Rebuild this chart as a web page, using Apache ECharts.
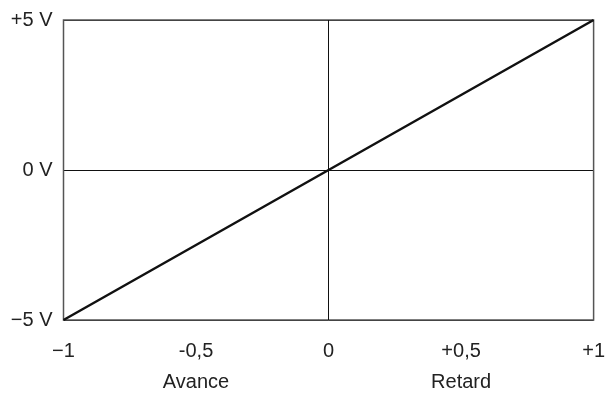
<!DOCTYPE html>
<html>
<head>
<meta charset="utf-8">
<script src="https://cdn.jsdelivr.net/npm/echarts@6/dist/echarts.min.js"></script>
<style>
  html, body { margin: 0; padding: 0; background: #fff; }
  #chart { width: 608px; height: 398px; }
</style>
</head>
<body>
<div id="chart"></div>
<script>
// phase (x) vs output voltage (y)
const xValues = [-1, 0, 1]
const yValues = [-5, 0, 5]
const xTickLabels = { '-1': '\u22121', '-0.5': '-0,5\nAvance', '0': '0', '0.5': '+0,5\nRetard', '1': '+1' }
const yTickLabels = { '-5': '\u22125 V', '0': '0 V', '5': '+5 V' }

const font = 'Liberation Sans, Arial, sans-serif'
const chart = echarts.init(document.getElementById('chart'))

chart.setOption({
  animation: false,
  grid: {
    left: 63.5,
    right: 14,
    top: 20,
    bottom: 74,
    show: true,
    borderColor: '#555',
    borderWidth: 1.5,
    z: 3
  },
  xAxis: {
    type: 'value',
    min: -1,
    max: 1,
    interval: 0.5,
    axisLine: { show: false },
    axisTick: { show: false },
    splitLine: { show: false },
    axisLabel: {
      margin: 16,
      color: '#222',
      fontFamily: font,
      fontSize: 20,
      lineHeight: 31,
      showMinLabel: true,
      showMaxLabel: true,
      formatter: v => xTickLabels[String(v)]
    }
  },
  yAxis: {
    type: 'value',
    min: -5,
    max: 5,
    interval: 5,
    axisLine: { show: false },
    axisTick: { show: false },
    splitLine: { show: true, lineStyle: { color: '#111', width: 1 } },
    axisLabel: {
      margin: 11,
      color: '#222',
      fontFamily: font,
      fontSize: 20,
      formatter: v => yTickLabels[String(v)]
    }
  },
  series: [{
    type: 'line',
    data: xValues.map((x, i) => [x, yValues[i]]),
    symbol: 'none',
    lineStyle: { color: '#111', width: 2.5 },
    z: 5,
    markLine: {
      silent: true,
      symbol: 'none',
      label: { show: false },
      lineStyle: { color: '#111', width: 1, type: 'solid' },
      data: [{ xAxis: 0 }]
    }
  }]
})
</script>
</body>
</html>
